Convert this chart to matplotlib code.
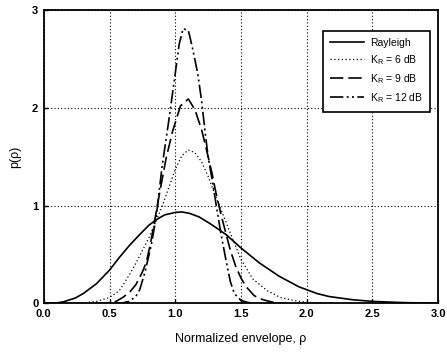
import matplotlib

matplotlib.use("Agg")
import matplotlib.pyplot as plt

plt.rcParams["font.family"] = ["Liberation Sans", "DejaVu Sans"]

# values
rayleigh_x = [0.0, 0.1, 0.15, 0.24, 0.3, 0.4, 0.45, 0.5, 0.575, 0.65, 0.727, 0.8, 0.855,
              0.92, 1.0, 1.05, 1.11, 1.18, 1.26, 1.31, 1.39, 1.5, 1.64, 1.79, 1.94, 2.08,
              2.17, 2.35, 2.5, 2.75, 3.0]
rayleigh_y = [0.0, 0.005, 0.016, 0.055, 0.10, 0.20, 0.27, 0.34, 0.47, 0.59, 0.70, 0.80, 0.855,
              0.905, 0.93, 0.935, 0.92, 0.885, 0.82, 0.775, 0.70, 0.567, 0.414, 0.278, 0.17, 0.10,
              0.07, 0.037, 0.02, 0.007, 0.002]

k6_x = [0.2, 0.3, 0.4, 0.5, 0.575, 0.65, 0.7, 0.75, 0.8, 0.85, 0.9, 0.95, 1.0, 1.05, 1.1,
        1.15, 1.2, 1.25, 1.3, 1.34, 1.41, 1.5, 1.59, 1.7, 1.8, 1.9, 2.0, 2.2]
k6_y = [0.0, 0.005, 0.02, 0.06, 0.13, 0.29, 0.41, 0.54, 0.67, 0.83, 0.99, 1.18, 1.37, 1.51, 1.57,
        1.54, 1.45, 1.30, 1.12, 0.99, 0.75, 0.45, 0.25, 0.13, 0.06, 0.03, 0.01, 0.0]

k9_x = [0.4, 0.5, 0.55, 0.6, 0.65, 0.7, 0.75, 0.78, 0.81, 0.84, 0.88, 0.93, 0.98, 1.04, 1.1,
        1.15, 1.2, 1.24, 1.28, 1.31, 1.35, 1.385, 1.42, 1.46, 1.5, 1.54, 1.6, 1.64, 1.7, 1.75, 1.85]
k9_y = [0.0, 0.005, 0.02, 0.06, 0.11, 0.19, 0.32, 0.42, 0.60, 0.82, 1.12, 1.48, 1.76, 2.02, 2.09,
        1.98, 1.78, 1.56, 1.33, 1.13, 0.90, 0.72, 0.54, 0.38, 0.26, 0.17, 0.08, 0.05, 0.025, 0.01, 0.0]

k12_x = [0.55, 0.6, 0.65, 0.7, 0.73, 0.77, 0.815, 0.853, 0.9, 0.95, 1.0, 1.03, 1.06, 1.1, 1.13,
         1.17, 1.2, 1.225, 1.25, 1.283, 1.31, 1.347, 1.385, 1.42, 1.45, 1.5, 1.55, 1.6]
k12_y = [0.0, 0.005, 0.02, 0.07, 0.14, 0.32, 0.58, 0.86, 1.40, 1.86, 2.35, 2.65, 2.81, 2.79, 2.62,
         2.36, 2.08, 1.78, 1.50, 1.25, 1.02, 0.72, 0.45, 0.22, 0.10, 0.03, 0.01, 0.0]

x_ticks = [0.0, 0.5, 1.0, 1.5, 2.0, 2.5, 3.0]
y_ticks = [0, 1, 2, 3]

fig = plt.figure(figsize=(4.47, 3.59), dpi=100, facecolor="white")
ax = fig.add_axes([0.098, 0.155, 0.882, 0.817])

ax.plot(rayleigh_x, rayleigh_y, color="black", linewidth=1.2, label="Rayleigh")
ax.plot(k6_x, k6_y, color="black", linewidth=0.9, linestyle=(0, (1, 2)),
        label=r"$\mathregular{K_R}$ = 6 dB")
ax.plot(k9_x, k9_y, color="black", linewidth=1.2, linestyle=(0, (8, 3)),
        label=r"$\mathregular{K_R}$ = 9 dB")
ax.plot(k12_x, k12_y, color="black", linewidth=1.2, linestyle=(0, (8, 2, 1.2, 2, 1.2, 2)),
        label=r"$\mathregular{K_R}$ = 12 dB")

ax.set_xlim(0, 3)
ax.set_ylim(0, 3)
ax.set_xticks(x_ticks)
ax.set_xticklabels([f"{v:.1f}" for v in x_ticks])
ax.set_yticks(y_ticks)
ax.tick_params(direction="in", length=3, width=1, labelsize=8, pad=4)
for lbl in ax.get_xticklabels() + ax.get_yticklabels():
    lbl.set_fontweight("bold")

ax.grid(True, color="black", linestyle=(0, (1, 2)), linewidth=0.8)
for spine in ax.spines.values():
    spine.set_linewidth(1.3)

ax.set_xlabel("Normalized envelope, ρ", fontsize=9, labelpad=10)
ax.set_ylabel("p(ρ)", fontsize=9, labelpad=8)

leg = ax.legend(loc="upper right", bbox_to_anchor=(0.993, 0.948), fontsize=7.5,
                fancybox=False, framealpha=1, edgecolor="black", handlelength=3.2,
                borderpad=0.7, labelspacing=0.5, handletextpad=0.6)
leg.get_frame().set_linewidth(1.2)

fig.savefig("out.png", dpi=100, facecolor="white")
